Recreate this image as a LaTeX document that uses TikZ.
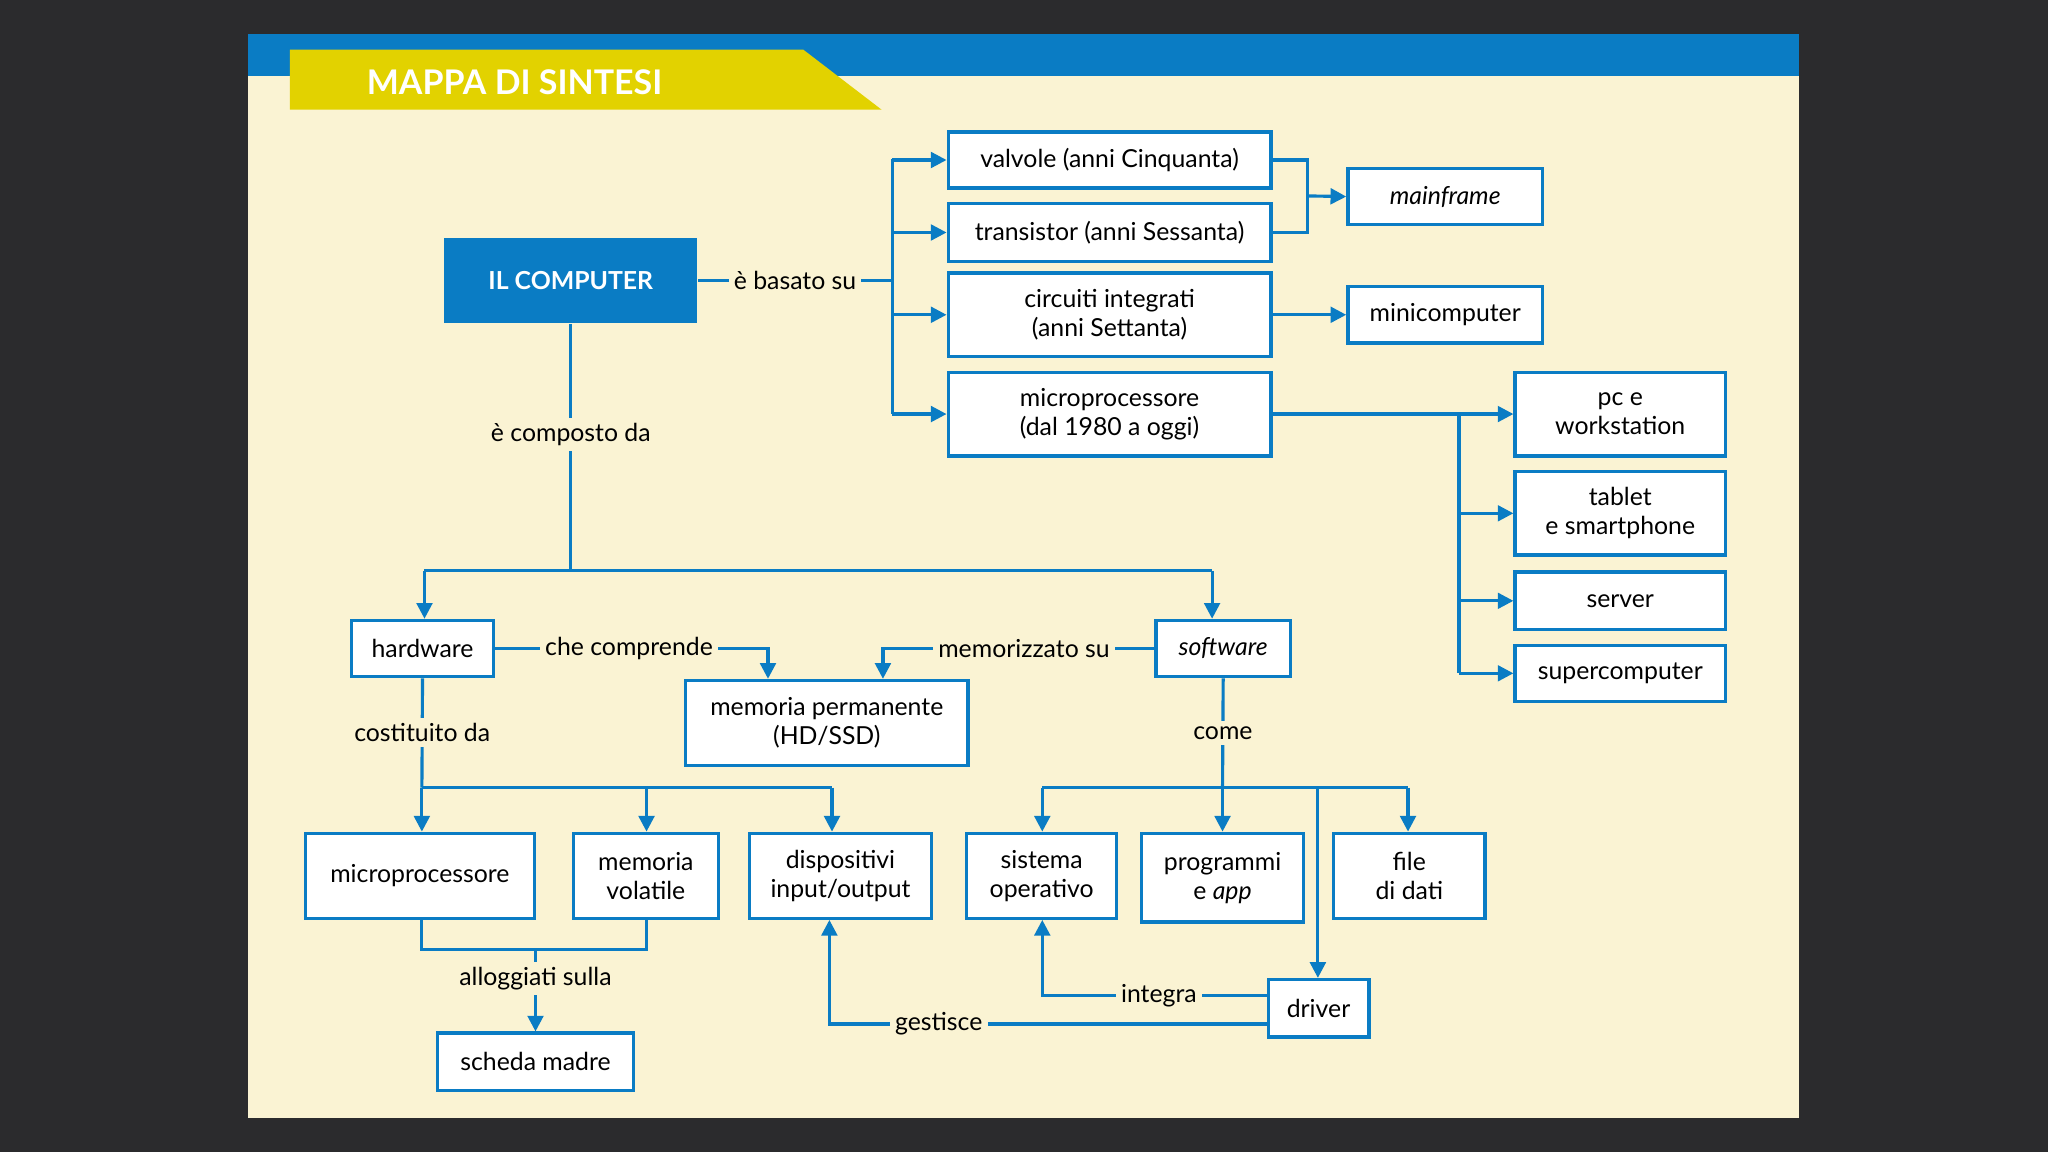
\documentclass[tikz,border=0pt]{standalone}
\usepackage{fontspec}
\setmainfont{Lato}
\usetikzlibrary{arrows.meta}
\definecolor{bg}{HTML}{2B2B2D}
\definecolor{cream}{HTML}{FAF3D3}
\definecolor{myblue}{HTML}{0A7CC4}
\definecolor{myyellow}{HTML}{E2D200}
\begin{document}
\begin{tikzpicture}[x=0.5pt,y=-0.5pt,
  font=\fontsize{9.5}{11}\selectfont,
  box/.style={draw=myblue,line width=1.3pt,fill=white,align=center,inner sep=1pt},
  lab/.style={fill=cream,inner sep=2pt},
  con/.style={draw=myblue,line width=1.2pt},
  arr/.style={con,-{Triangle[length=6pt,width=6pt]}}]
\fill[bg] (0,0) rectangle (1568,882);
\useasboundingbox (0,0) rectangle (1568,882);
\fill[cream] (190,26) rectangle (1377,856);
\fill[myblue] (190,26) rectangle (1377,58);
\fill[myyellow] (222,38) -- (615,38) -- (675,84) -- (222,84) -- cycle;
\node[text=white,font=\fontsize{13}{15}\selectfont\bfseries] (title) at (394,63) {MAPPA DI SINTESI};

% nodes
\node[fill=myblue,text=white,font=\fontsize{9.5}{11}\selectfont\bfseries,minimum width=97pt,minimum height=32.5pt] (comp) at (437,215) {IL COMPUTER};
\node[box,minimum width=123.5pt,minimum height=21.5pt] (valv) at (849.5,122.5) {valvole (anni Cinquanta)};
\node[box,minimum width=123.5pt,minimum height=22pt] (trans) at (849.5,178) {transistor (anni Sessanta)};
\node[box,minimum width=123.5pt,minimum height=32pt] (circ) at (849.5,241) {circuiti integrati\\(anni Settanta)};
\node[box,minimum width=123.5pt,minimum height=32pt] (mp1) at (849.5,317) {microprocessore\\(dal 1980 a oggi)};
\node[box,minimum width=74.5pt,minimum height=21.5pt] (mainf) at (1106.5,150.5) {\itshape mainframe};
\node[box,minimum width=74.5pt,minimum height=21.5pt] (minic) at (1106.5,241) {minicomputer};
\node[box,minimum width=80.5pt,minimum height=32pt] (pc) at (1240.5,317) {pc e\\workstation};
\node[box,minimum width=80.5pt,minimum height=32pt] (tab) at (1240.5,393) {tablet\\e smartphone};
\node[box,minimum width=80.5pt,minimum height=22pt] (serv) at (1240.5,460) {server};
\node[box,minimum width=80.5pt,minimum height=21.5pt] (sup) at (1240.5,515.5) {supercomputer};
\node[box,minimum width=54.5pt,minimum height=21.5pt] (hw) at (323.5,496.5) {hardware};
\node[box,minimum width=51.5pt,minimum height=21.5pt] (sw) at (936.5,496.5) {\itshape software};
\node[box,minimum width=108pt,minimum height=32.5pt] (mem) at (633,553.5) {memoria permanente\\(HD/SSD)};
\node[box,minimum width=87.5pt,minimum height=32.5pt] (mp2) at (321.5,670.5) {microprocessore};
\node[box,minimum width=55.5pt,minimum height=32.5pt] (vol) at (494.5,670.5) {memoria\\volatile};
\node[box,minimum width=69.5pt,minimum height=32.5pt] (disp) at (643.5,670.5) {dispositivi\\input/output};
\node[box,minimum width=57.5pt,minimum height=32.5pt] (sist) at (797.5,670.5) {sistema\\operativo};
\node[box,minimum width=62pt,minimum height=34pt] (prog) at (936,672) {programmi\\e \textit{app}};
\node[box,minimum width=58pt,minimum height=32.5pt] (file) at (1079,670.5) {file\\di dati};
\node[box,minimum width=38.5pt,minimum height=22pt] (drv) at (1009.5,772) {driver};
\node[box,minimum width=75pt,minimum height=22pt] (sch) at (410,813) {scheda madre};

% coordinates
\coordinate (b1) at (683,215);
\coordinate (b2) at (1001,150);
\coordinate (b3) at (1117,317);
\coordinate (c1) at (437,437);
\coordinate (h1) at (323,603);
\coordinate (s1) at (936,603);
\coordinate (m1) at (410,727);

% connectors
\draw[con] (comp.east) -- (b1) node[midway,lab] {è basato su};
\draw[con] (683,122) -- (683,317);
\foreach \n in {valv,trans,circ,mp1} \draw[arr] (683,0 |- \n.west) -- (\n.west);
\draw[con] (valv.east) -| (b2) |- (trans.east);
\draw[arr] (b2) -- (mainf.west);
\draw[arr] (circ.east) -- (minic.west);
\draw[arr] (mp1.east) -- (pc.west);
\draw[con] (b3) -- (1117,515);
\foreach \n in {tab,serv,sup} \draw[arr] (1117,0 |- \n.west) -- (\n.west);

\draw[con] (comp.south) -- (c1) node[pos=0.45,lab] {è composto da};
\draw[con] (325,437) -- (928,437);
\draw[arr] (325,437) -- (325,0 |- hw.north);
\draw[arr] (928,437) -- (928,0 |- sw.north);
\draw[arr] (hw.east) -| (588,0 |- mem.north) node[pos=0.245,lab] {che comprende};
\draw[arr] (sw.west) -| (676,0 |- mem.north) node[pos=0.24,lab] {memorizzato su};

\draw[con] (hw.south) -- (h1) node[midway,lab] {costituito da};
\draw[con] (h1) -- (637,603);
\draw[arr] (h1) -- (mp2.north -| h1);
\draw[arr] (495,603) -- (vol.north -| 495,0);
\draw[arr] (637,603) -- (disp.north -| 637,0);

\draw[con] (sw.south) -- (s1) node[midway,lab] {come};
\draw[con] (798,603) -- (1078,603);
\draw[arr] (798,603) -- (sist.north -| 798,0);
\draw[arr] (s1) -- (prog.north -| s1);
\draw[arr] (1078,603) -- (file.north -| 1078,0);
\draw[arr] (1009,603) -- (drv.north -| 1009,0);

\draw[con] (mp2.south -| 323,0) |- (m1) -| (vol.south -| 495,0);
\draw[arr] (m1) -- (sch.north) node[pos=0.35,lab] {alloggiati sulla};

\draw[arr] (drv.west |- 0,762) -| (sist.south -| 798,0) node[pos=0.24,lab] {integra};
\draw[arr] (drv.west |- 0,784) -| (disp.south -| 635,0) node[pos=0.375,lab] {gestisce};
\end{tikzpicture}
\end{document}
